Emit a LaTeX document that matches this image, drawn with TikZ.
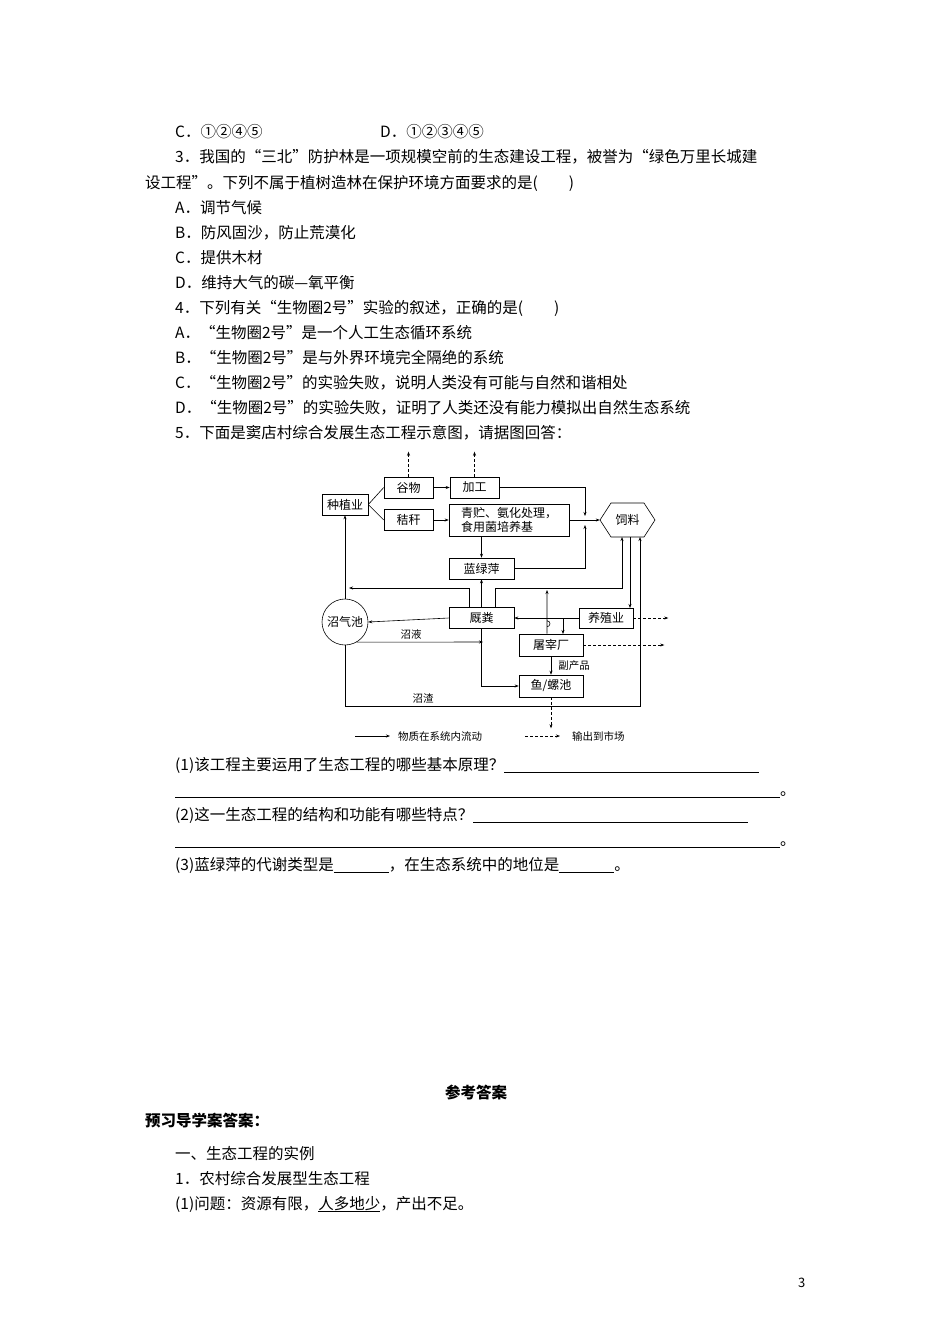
\documentclass[tikz,border=0pt]{standalone}
\usepackage{fontspec}
\setmainfont{Noto Sans CJK SC}
\usetikzlibrary{arrows.meta}
\begin{document}
\begin{tikzpicture}[x=1pt,y=-1pt,
  txt/.style={anchor=base west,inner sep=0,font=\fontsize{15.5}{18}\selectfont},
  box/.style={draw,line width=0.6pt,inner sep=0,font=\fontsize{12}{14}\selectfont},
  lab/.style={inner sep=0,font=\fontsize{10.5}{12}\selectfont},
  ln/.style={line width=0.6pt},
  arr/.style={ln,-{Stealth[length=4pt,width=3pt]}},
  darr/.style={ln,dashed,dash pattern=on 3pt off 2pt,-{Stealth[length=4pt,width=3pt]}}]
\useasboundingbox[fill=white] (0,0) rectangle (950,1344);
\newcommand{\blank}[1]{\rule[-2pt]{#1pt}{0.5pt}}
% text
\node[txt] (t1) at (175,137) {C．①②④⑤};
\node[txt] (t1b) at (380,137) {D．①②③④⑤};
\node[txt] (t2) at (175,162) {3．我国的“三北”防护林是一项规模空前的生态建设工程，被誉为“绿色万里长城建};
\node[txt] (t3) at (145,188) {设工程”。下列不属于植树造林在保护环境方面要求的是(\hspace{2em})};
\node[txt] (t4) at (175,213) {A．调节气候};
\node[txt] (t5) at (175,238) {B．防风固沙，防止荒漠化};
\node[txt] (t6) at (175,263) {C．提供木材};
\node[txt] (t7) at (175,288) {D．维持大气的碳—氧平衡};
\node[txt] (t8) at (175,313) {4．下列有关“生物圈2号”实验的叙述，正确的是(\hspace{2em})};
\node[txt] (t9) at (175,338) {A．“生物圈2号”是一个人工生态循环系统};
\node[txt] (t10) at (175,363) {B．“生物圈2号”是与外界环境完全隔绝的系统};
\node[txt] (t11) at (175,388) {C．“生物圈2号”的实验失败，说明人类没有可能与自然和谐相处};
\node[txt] (t12) at (175,413) {D．“生物圈2号”的实验失败，证明了人类还没有能力模拟出自然生态系统};
\node[txt] (t13) at (175,438) {5．下面是窦店村综合发展生态工程示意图，请据图回答：};
\node[txt] (q1) at (175,770) {(1)该工程主要运用了生态工程的哪些基本原理？\blank{255}};
\node[txt] (q1b) at (175,795) {\blank{605}。};
\node[txt] (q2) at (175,820) {(2)这一生态工程的结构和功能有哪些特点？\blank{275}};
\node[txt] (q2b) at (175,845) {\blank{605}。};
\node[txt] (q3) at (175,870) {(3)蓝绿萍的代谢类型是\blank{55}，在生态系统中的地位是\blank{55}。};
\node[txt,anchor=base,font=\fontsize{15.5}{18}\selectfont\bfseries] (h1) at (476,1098) {参考答案};
\node[txt,font=\fontsize{15.5}{18}\selectfont\bfseries] (h2) at (145,1126) {预习导学案答案：};
\node[txt] (a1) at (175,1159) {一、生态工程的实例};
\node[txt] (a2) at (175,1184) {1．农村综合发展型生态工程};
\node[txt] (a3) at (175,1209) {(1)问题：资源有限，\underline{人多地少}，产出不足。};
\node[txt,font=\fontsize{13}{15}\selectfont] (pg) at (798,1287) {3};
% diagram nodes
\node[box,minimum width=46,minimum height=21] (zhi) at (345,504.5) {种植业};
\node[box,minimum width=49,minimum height=21] (gu) at (408.5,487.5) {谷物};
\node[box,minimum width=49,minimum height=21] (jia) at (474.5,487.5) {加工};
\node[box,minimum width=49,minimum height=21] (jie) at (408.5,520) {秸秆};
\node[box,minimum width=120,minimum height=32,align=left] (qing) at (509,520) {青贮、氨化处理，\\食用菌培养基};
\draw[ln] (600,520)--(611,503)--(644,503)--(655,520)--(644,537)--(611,537)--cycle;
\node[inner sep=0,minimum width=55,minimum height=34,font=\fontsize{12}{14}\selectfont] (si) at (627.5,520) {饲料};
\node[box,minimum width=65,minimum height=21] (lan) at (481.5,568.5) {蓝绿萍};
\node[box,circle,minimum size=46] (zq) at (345,622) {沼气池};
\node[box,minimum width=65,minimum height=21] (jiu) at (481.5,618) {厩粪};
\node[box,minimum width=54,minimum height=20] (yang) at (606,618) {养殖业};
\node[box,minimum width=64,minimum height=22] (tu) at (551,645) {屠宰厂};
\node[box,minimum width=64,minimum height=22] (yu) at (551,686) {鱼/螺池};
% connectors
\draw[ln] (zhi.east) -- (gu.west);
\draw[ln] (zhi.east) -- (jie.west);
\draw[arr] (gu) -- (jia);
\draw[darr] (gu.north) -- ++(0,-25);
\draw[darr] (jia.north) -- ++(0,-25);
\coordinate (c1) at (585,516);
\draw[arr] (jia.east) -| (c1);
\draw[arr] (jie) -- (qing);
\draw[arr] (qing.east) -- (si.west);
\draw[arr] (lan.north |- qing.south) -- (lan.north);
\coordinate (c2) at (585,525);
\draw[arr] (lan.east) -| (c2);
\draw[arr] (jiu.west) -- (zq.east);
\coordinate (c3) at (349,588);
\draw[arr] ([xshift=-12.5pt]jiu.north) |- (c3);
\draw[arr] (zq.north) -- (zhi.south);
\draw[arr] (lan.south |- jiu.north) -- (lan.south);
\coordinate (c4) at (622,537);
\draw[arr] ([xshift=13.5pt]jiu.north) |- (622,588) -- (c4);
\draw[arr] ([xshift=-4pt]tu.north) -- ++(0,-13) arc (-90:90:3) -- (547,590);
\draw[arr] (yang.west) -- (jiu.east);
\draw[arr] (563,618) -- (563,634);
\coordinate (c5) at (630,537);
\draw[arr] (c5) -- (630,608);
\coordinate (c6) at (640,537);
\draw[arr] (zq.south) |- (640,706) -- (c6);
\node[lab] (l1) at (423,698) {沼渣};
\draw[arr] (zq.-60) -- (483,642);
\node[lab] (l2) at (411,634) {沼液};
\draw[arr] (lan.south |- jiu.south) |- (yu.west);
\draw[arr] (tu.south) -- (yu.north);
\node[lab] (l3) at (574,666) {副产品};
\draw[darr] (yang.east) -- ++(35,0);
\draw[darr] (tu.east) -- ++(81,0);
\draw[darr] (yu.south) -- ++(0,31);
% legend
\coordinate (g1) at (355,736);
\coordinate (g2) at (525,736);
\draw[arr] (g1) -- ++(35,0);
\node[lab,anchor=west] (lg1) at (398,736) {物质在系统内流动};
\draw[darr] (g2) -- ++(35,0);
\node[lab,anchor=west] (lg2) at (572,736) {输出到市场};
\end{tikzpicture}
\end{document}
